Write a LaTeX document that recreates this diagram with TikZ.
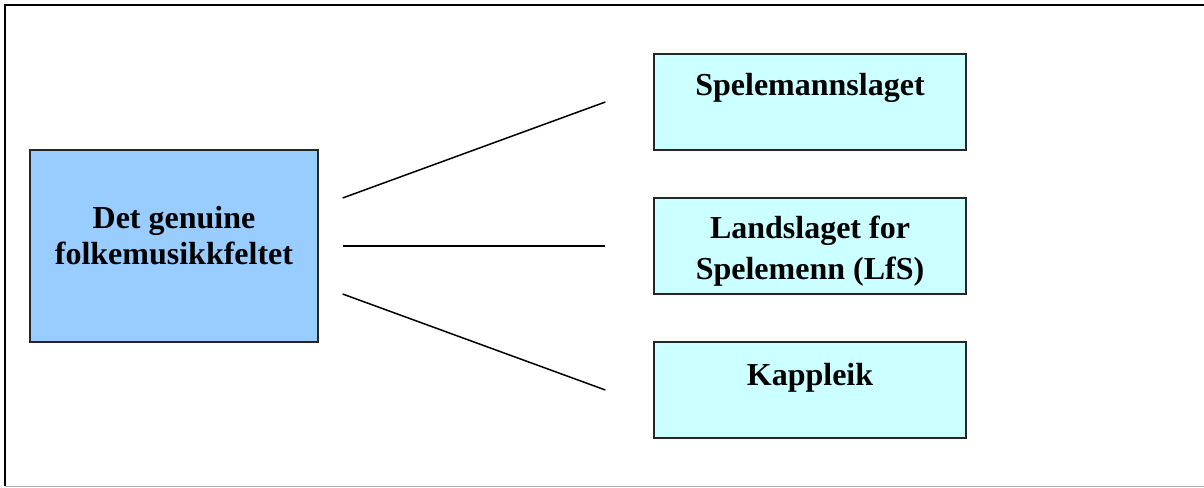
\documentclass[tikz,border=0pt]{standalone}
\usepackage{fontspec}
\setmainfont{Liberation Serif}
\usetikzlibrary{calc}
\definecolor{feltblaa}{RGB}{153,204,255}
\definecolor{lagcyan}{RGB}{204,255,255}
\begin{document}
\begin{tikzpicture}[x=1pt,y=-1pt,
  boks/.style={draw=black!85,line width=1.3pt,inner sep=0pt},
  felt/.style={boks,fill=feltblaa,minimum width=288pt,minimum height=192pt},
  lag/.style={boks,fill=lagcyan,minimum width=312pt,minimum height=96pt},
  tekst/.style={align=center,inner sep=0pt,font=\fontsize{32}{41}\selectfont\bfseries},
  strek/.style={line width=1.5pt}]
\useasboundingbox (0,0) rectangle (1204,487);
% ramme
\draw[line width=1.8pt] (1206,5) -- (5,5) -- (5,486);
\draw[gray!60,line width=1pt] (5,486) -- (1206,486);
% feltet til venstre
\node[felt,label={[tekst,font=\fontsize{32}{36}\selectfont\bfseries,yshift=10pt]center:Det genuine\\folkemusikkfeltet}] (felt) at (174,246) {};
% lagene til hoyre
\node[lag,label={[tekst,anchor=north,yshift=-20pt]north:Spelemannslaget}] (spel) at (810,102) {};
\node[lag,label={[tekst,anchor=north,yshift=-18pt]north:Landslaget for\\Spelemenn (LfS)}] (lfs) at (810,246) {};
\node[lag,label={[tekst,anchor=north,yshift=-22pt]north:Kappleik}] (kapp) at (810,390) {};
% streker
\draw[strek] ($(felt.east)+(24,-48)$) -- ($(spel.west)+(-48,0)$);
\draw[strek] ($(felt.east)+(24,0)$) -- ($(lfs.west)+(-48,0)$);
\draw[strek] ($(felt.east)+(24,48)$) -- ($(kapp.west)+(-48,0)$);
\end{tikzpicture}
\end{document}
